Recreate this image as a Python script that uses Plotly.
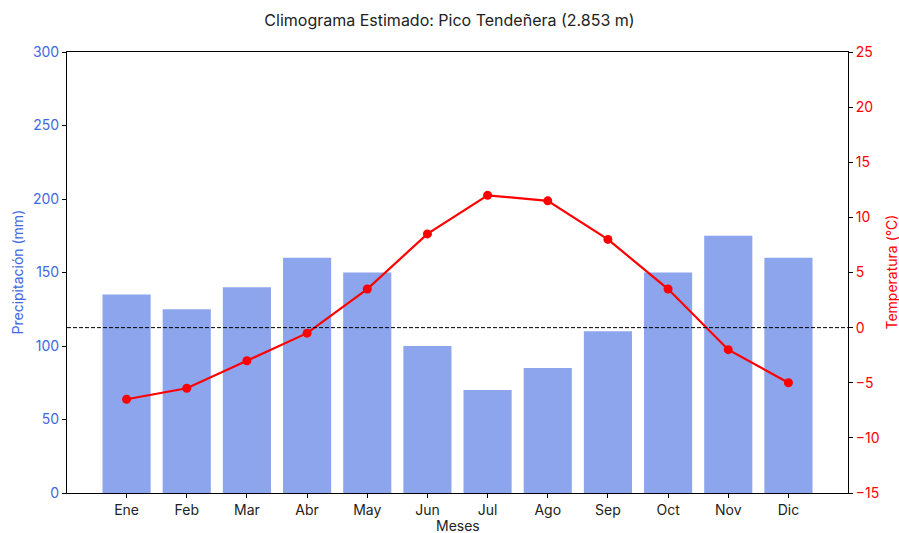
import plotly.graph_objects as go

meses = ["Ene", "Feb", "Mar", "Abr", "May", "Jun", "Jul", "Ago", "Sep", "Oct", "Nov", "Dic"]
precipitacion = [135, 125, 140, 160, 150, 100, 70, 85, 110, 150, 175, 160]
temperatura = [-6.5, -5.5, -3, -0.5, 3.5, 8.5, 12, 11.5, 8, 3.5, -2, -5]

idx = list(range(len(meses)))
FONT = "Inter, Roboto, sans-serif"
AZUL = "#4169E1"
ROJO = "#FF0000"

fig = go.Figure()
fig.add_trace(go.Bar(
    x=idx, y=precipitacion, width=0.8,
    marker=dict(color="rgba(65,105,225,0.6)", line=dict(width=0)),
    name="Precipitación", yaxis="y",
))
fig.add_trace(go.Scatter(
    x=idx, y=temperatura, mode="lines+markers",
    line=dict(color=ROJO, width=2.2),
    marker=dict(color=ROJO, size=9),
    name="Temperatura", yaxis="y2",
))

fig.add_shape(type="line", xref="paper", x0=0, x1=1, yref="y2", y0=0, y1=0,
              line=dict(color="black", width=1, dash="4px,2px"), layer="above")

# Axis titles placed as annotations for fine positioning
fig.add_annotation(text="Meses", xref="paper", yref="paper", x=0.5, y=0,
                   yshift=-32, xanchor="center", yanchor="middle", showarrow=False,
                   font=dict(size=14, color="#222"))
fig.add_annotation(text="Precipitación (mm)", xref="paper", yref="paper", x=0, y=0.5,
                   xshift=-50, xanchor="center", yanchor="middle", showarrow=False,
                   textangle=-90, font=dict(size=14, color=AZUL))
fig.add_annotation(text="Temperatura (°C)", xref="paper", yref="paper", x=1, y=0.5,
                   xshift=43, xanchor="center", yanchor="middle", showarrow=False,
                   textangle=-90, font=dict(size=14, color=ROJO))

fig.update_layout(
    width=899, height=533,
    margin=dict(l=67, r=51, t=52, b=40, autoexpand=False),
    plot_bgcolor="white", paper_bgcolor="white",
    showlegend=False,
    font=dict(family=FONT, size=13, color="#222"),
    title=dict(text="Climograma Estimado: Pico Tendeñera (2.853 m)",
               x=0.5, xanchor="center", y=0.962, yanchor="middle",
               font=dict(size=16, color="#222")),
    xaxis=dict(
        range=[-0.99, 11.99], tickvals=idx, ticktext=meses, automargin=False,
        showline=True, linecolor="black", linewidth=1, mirror=True,
        ticks="outside", ticklen=4, tickcolor="black", showgrid=False, zeroline=False,
        tickfont=dict(size=14),
    ),
    yaxis=dict(
        range=[0, 300], dtick=50, automargin=False,
        showline=True, linecolor="black", linewidth=1,
        ticks="outside", ticklen=4, tickcolor="black", showgrid=False, zeroline=False,
        tickfont=dict(color=AZUL, size=14),
    ),
    yaxis2=dict(
        range=[-15, 25], dtick=5, overlaying="y", side="right", automargin=False,
        showline=True, linecolor="black", linewidth=1,
        ticks="outside", ticklen=4, tickcolor="black", showgrid=False, zeroline=False,
        tickfont=dict(color=ROJO, size=14),
    ),
)

fig.write_html("out.html")
